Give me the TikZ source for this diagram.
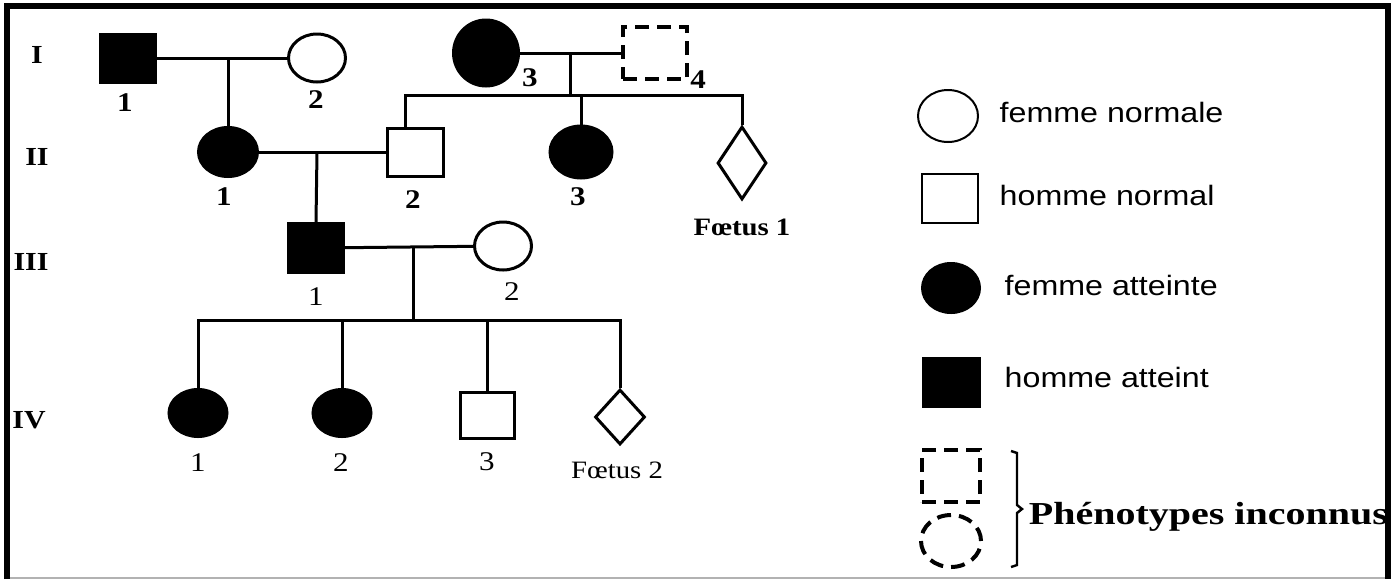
\documentclass[tikz,border=0pt]{standalone}
\usepackage{fontspec}
\setmainfont{Liberation Serif}
\newfontfamily\legendfont{Liberation Sans}
\usetikzlibrary{shapes.geometric}
\tikzset{
  ind/.style={draw, line width=1.5pt, inner sep=0pt},
  male/.style={ind, rectangle, minimum width=27.5pt, minimum height=24pt},
  female/.style={ind, ellipse, minimum width=28.5pt, minimum height=24pt},
  foetus/.style={ind, diamond, minimum width=24.5pt, minimum height=36.5pt},
  sick/.style={fill=black},
  unknown/.style={dash pattern=on 7pt off 4pt},
  lbl/.style={font=\fontsize{13.5}{15}\selectfont, xscale=1.15, inner sep=0pt},
  blbl/.style={lbl, font=\fontsize{13.5}{15}\selectfont\bfseries},
  gen/.style={font=\fontsize{13}{15}\selectfont\bfseries, xscale=1.15, inner sep=0pt},
  leg/.style={font=\legendfont\fontsize{14}{16}\selectfont, xscale=1.15, inner sep=0pt, anchor=west},
}
\begin{document}
\begin{tikzpicture}[x=0.5pt, y=-0.5pt, line width=1.5pt]
  \useasboundingbox (0,0) rectangle (1395,579);
  % generations
  \draw
    (37,55) node[gen] (gI){I}
    (37,157) node[gen] (gII){II}
    (31,262) node[gen] (gIII){III}
    (29,420) node[gen] (gIV){IV};
  % individuals
  \draw
    (128,58) node[male, sick] (I1){}
    (317,58) node[female] (I2){}
    (486,53) node[female, sick, minimum width=32.5pt, minimum height=33pt] (I3){}
    (655,53) node[male, unknown, line width=2pt, minimum width=32pt, minimum height=26pt] (I4){}
    (228,152) node[female, sick, minimum width=29.5pt, minimum height=24.5pt] (II1){}
    (415,152) node[male, minimum width=28pt] (II2){}
    (581,152) node[female, sick, minimum width=31pt, minimum height=26pt] (II3){}
    (742,163) node[foetus] (F1){}
    (316,248) node[male, sick, minimum height=24.5pt] (III1){}
    (503,246) node[female] (III2){}
    (198,413) node[female, sick, minimum width=29pt, minimum height=23.5pt] (IV1){}
    (342,413) node[female, sick, minimum width=29pt, minimum height=23.5pt] (IV2){}
    (487,415) node[male, minimum width=27pt, minimum height=23pt] (IV3){}
    (620,417) node[foetus, minimum width=25pt, minimum height=27.5pt] (F2){};
  % numbers
  \draw
    (125,103) node[blbl] (nI1){1}
    (316,100) node[blbl] (nI2){2}
    (530,78) node[blbl] (nI3){3}
    (698,80) node[blbl] (nI4){4}
    (224,197) node[blbl] (nII1){1}
    (413,200) node[blbl] (nII2){2}
    (578,197) node[blbl] (nII3){3}
    (742,227) node[blbl, font=\fontsize{12.5}{14}\selectfont\bfseries] (nF1){Fœtus 1}
    (316,297) node[lbl] (nIII1){1}
    (512,292) node[lbl] (nIII2){2}
    (198,463) node[lbl] (nIV1){1}
    (341,463) node[lbl] (nIV2){2}
    (487,462) node[lbl] (nIV3){3}
    (617,470) node[lbl, font=\fontsize{12.5}{14}\selectfont] (nF2){Fœtus 2};
  \coordinate (mI) at (228,58);
  \coordinate (mI3) at (570,53);
  \coordinate (sI) at (570,95);
  \coordinate (mII) at (317,152);
  \coordinate (mIII) at (413,246);
  \coordinate (sIII) at (413,320);
  \begin{scope}[-]
    \draw (I1) -- (I2);
    \draw (mI) -- (II1.north);
    \draw (I3) -- (I4);
    \draw (mI3) -- (sI);
    \draw ([xshift=-5pt]II2.north) |- (sI) -| (F1.north);
    \draw (sI -| II3.north) -- (II3.north);
    \draw (II1) -- (II2);
    \draw (mII) -- (III1.north);
    \draw (III1) -- (III2);
    \draw (mIII) -- (sIII);
    \draw (IV1.north) |- (sIII) -| (F2.north);
    \draw (sIII -| IV2.north) -- (IV2.north);
    \draw (sIII -| IV3.north) -- (IV3.north);
  \end{scope}
  % legend
  \draw
    (948,116) node[female, line width=1pt, minimum width=30pt, minimum height=26pt] (kF){}
    (950,198) node[male, line width=1pt, minimum width=28pt, minimum height=24.5pt] (kM){}
    (951,288) node[female, sick, line width=1pt, minimum width=29pt, minimum height=25pt] (kFA){}
    (951,382) node[male, sick, line width=1pt, minimum width=28.5pt, minimum height=24.5pt] (kMA){}
    (951,476) node[male, unknown, line width=2pt, minimum width=29pt, minimum height=26pt] (kMU){}
    (951,541) node[female, unknown, line width=2pt, minimum width=30pt, minimum height=26pt] (kFU){};
  \draw
    (998,112) node[leg] (tF){femme normale}
    (998,195) node[leg] (tM){homme normal}
    (1003,285) node[leg] (tFA){femme atteinte}
    (1003,377) node[leg] (tMA){homme atteint}
    (1027,517) node[anchor=west, inner sep=0pt, xscale=1.25, font=\fontsize{16}{18}\selectfont\bfseries] (tU){Phénotypes inconnus};
  \draw[line width=1.2pt] (1011,451) -- (1017,453) -- (1017,505) -- (1022,509) -- (1017,513) -- (1017,565) -- (1011,567);
  % frame
  \draw[gray!60, line width=1pt] (6.5,577.5) -- (1388,577.5);
  \draw[line width=3pt] (6.5,579) -- (6.5,6) -- (1388,6) -- (1388,579);
\end{tikzpicture}
\end{document}
